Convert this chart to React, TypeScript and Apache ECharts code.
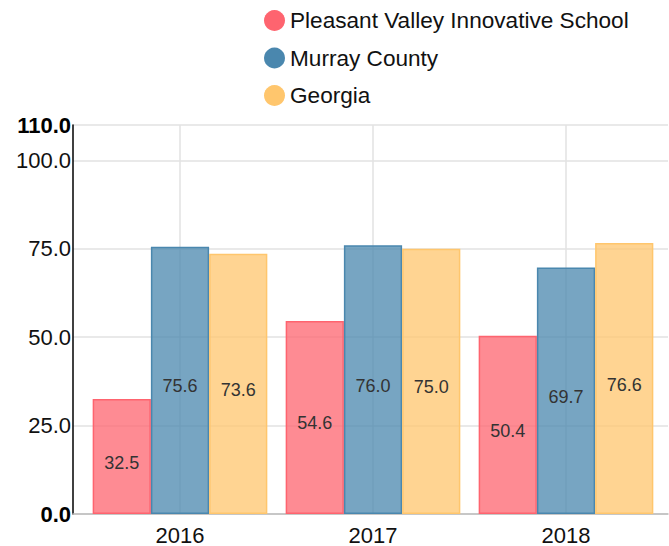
import React, { useEffect, useRef } from "react";
import * as echarts from "echarts";

const categories = ["2016", "2017", "2018"];
const seriesNames = ["Pleasant Valley Innovative School", "Murray County", "Georgia"];
const pleasantValley = [32.5, 54.6, 50.4];
const murrayCounty = [75.6, 76.0, 69.7];
const georgia = [73.6, 75.0, 76.6];
const colors = ["#FE646F", "#4A87AE", "#FFC66D"];
const gridCategories = ["", "2016", "", "2017", "", "2018", ""];

export default function App() {
  const ref = useRef<HTMLDivElement>(null);
  useEffect(() => {
    if (!ref.current) return;
    const chart = echarts.init(ref.current, null, { renderer: "svg" });
    const values = [pleasantValley, murrayCounty, georgia];
    const font = "'Liberation Sans', Arial, Helvetica, sans-serif";
    chart.setOption({
      animation: false,
      textStyle: { fontFamily: font },
      legend: {
        orient: "vertical",
        left: 259,
        top: 4,
        itemWidth: 21,
        itemHeight: 21,
        itemGap: 14.5,
        icon: "circle",
        textStyle: { fontSize: 22.6, color: "#111", fontFamily: font },
        data: seriesNames.map((name, i) => ({
          name,
          itemStyle: { color: colors[i], borderWidth: 0 },
        })),
      },
      grid: [
        { left: 73, right: 1, top: 125, bottom: 32 },
        { left: 83.5, right: 6.5, top: 125, bottom: 32 },
      ],
      xAxis: [
        {
          gridIndex: 0,
          type: "value",
          min: 0,
          max: 1,
          axisLine: { show: true, lineStyle: { color: "#bbbbbb", width: 1.5 } },
          axisTick: { show: false },
          axisLabel: { show: false },
          splitLine: { show: false },
        },
        {
          gridIndex: 1,
          type: "category",
          data: categories,
          axisLine: { show: false },
          axisTick: { show: false },
          axisLabel: { fontSize: 22, color: "#111", margin: 10, fontFamily: font },
          splitLine: { show: false },
        },
        {
          gridIndex: 1,
          type: "category",
          data: gridCategories,
          boundaryGap: false,
          axisLine: { show: false },
          axisTick: { show: false },
          axisLabel: { show: false },
          splitLine: {
            show: true,
            interval: (i: number) => i % 2 === 1,
            lineStyle: { color: "#e2e2e2", width: 1.5 },
          },
        },
      ],
      yAxis: [
        {
          gridIndex: 0,
          type: "value",
          min: 0,
          max: 110,
          interval: 25,
          axisLine: { show: true, lineStyle: { color: "#000", width: 1.5 } },
          axisTick: { show: false },
          axisLabel: {
            fontSize: 22,
            color: "#111",
            margin: 2,
            fontFamily: font,
            formatter: (v: number) =>
              v === 0 || v === 110 ? `{b|${v.toFixed(1)}}` : v.toFixed(1),
            rich: { b: { fontSize: 22, fontWeight: "bold", color: "#000", fontFamily: font } },
          },
          splitLine: { show: true, lineStyle: { color: "#e2e2e2", width: 1.5 } },
        },
        {
          gridIndex: 1,
          type: "value",
          min: 0,
          max: 110,
          show: false,
          splitLine: { show: false },
        },
      ],
      series: seriesNames.map((name, i) => ({
        name,
        type: "bar",
        xAxisIndex: 1,
        yAxisIndex: 1,
        data: values[i],
        barGap: "0%",
        barCategoryGap: "9.5%",
        itemStyle: {
          color: echarts.color.modifyAlpha(colors[i], 0.75),
          borderColor: colors[i],
          borderWidth: 1.5,
        },
        label: {
          show: true,
          position: "inside",
          offset: [0, 6],
          fontSize: 18,
          color: "#333",
          fontFamily: font,
          formatter: (p: any) => Number(p.value).toFixed(1),
        },
        emphasis: { disabled: true },
      })),
      color: colors,
    });
    return () => chart.dispose();
  }, []);
  return <div ref={ref} style={{ width: 669, height: 546, position: "absolute", left: 0, top: 0 }} />;
}
